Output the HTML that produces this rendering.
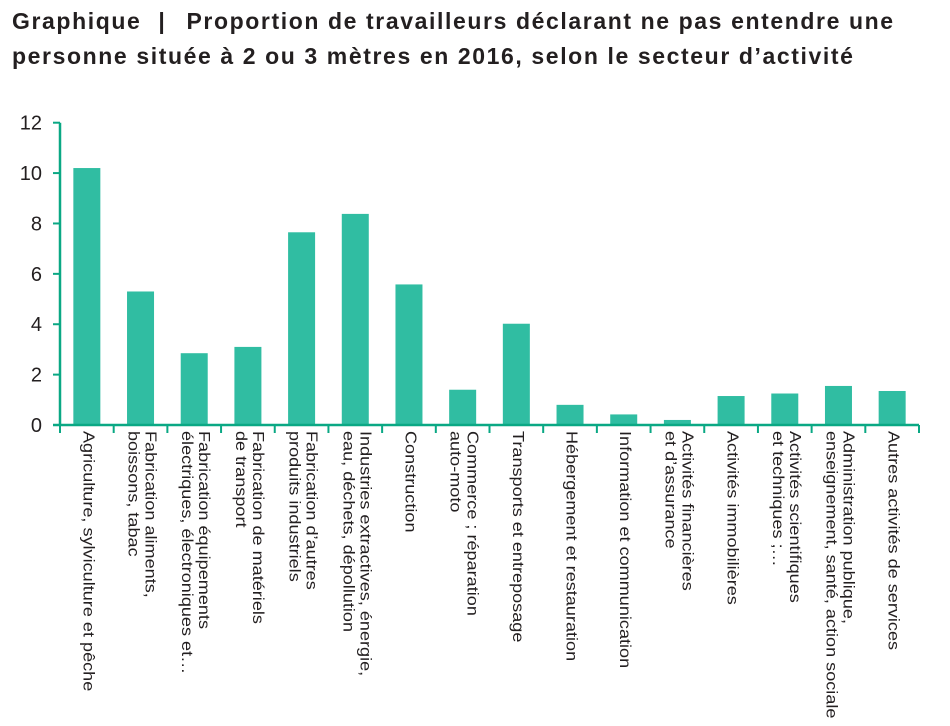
<!DOCTYPE html>
<html><head><meta charset="utf-8"><style>
body{margin:0;width:950px;height:726px;background:#fff;font-family:"Liberation Sans",sans-serif;color:#231f20;position:relative;overflow:hidden}
#title{position:absolute;left:12px;top:4px;font-weight:bold;font-size:23px;line-height:35px;letter-spacing:1.6px;white-space:nowrap}
.sep{display:inline-block;margin:0 20px 0 17px}
.lbl{position:absolute;top:431px;writing-mode:vertical-rl;font-size:16px;line-height:17px;white-space:nowrap;transform:translateX(-50%) scaleY(1.13);transform-origin:50% 0}
svg{position:absolute;left:0;top:0}
</style></head><body>
<div id="title">Graphique<span class="sep">|</span>Proportion de travailleurs déclarant ne pas entendre une<br>personne située à 2 ou 3 mètres en 2016, selon le secteur d’activité</div>
<svg id="chart" width="950" height="726"></svg>
<div id="labels"></div>
<script>
const categories=["Agriculture, sylviculture et pêche","Fabrication aliments,|boissons, tabac","Fabrication équipements|électriques, électroniques et…","Fabrication de matériels|de transport","Fabrication d’autres|produits industriels","Industries extractives, énergie,|eau, déchets, dépollution","Construction","Commerce ; réparation|auto-moto","Transports et entreposage","Hébergement et restauration","Information et communication","Activités financières|et d’assurance","Activités immobilières","Activités scientifiques|et techniques ;…","Administration publique,|enseignement, santé, action sociale","Autres activités de services"];
const values=[10.2,5.3,2.85,3.1,7.65,8.38,5.58,1.4,4.02,0.8,0.42,0.2,1.15,1.25,1.55,1.35];
const yTicks=[0,2,4,6,8,10,12];
const x0=60,x1=919,y0=425,yTop=122.7,yMax=12;
const band=(x1-x0)/categories.length;
const y=v=>y0-(y0-yTop)*v/yMax;
const xc=i=>x0+band*(i+0.5);
const svg=document.getElementById('chart');
const NS='http://www.w3.org/2000/svg';
function mk(t,a){const e=document.createElementNS(NS,t);for(const k in a)e.setAttribute(k,a[k]);svg.appendChild(e);return e;}
values.forEach((v,i)=>{
 const r=mk('rect',{x:xc(i)-13.5,y:y(v),width:27,height:y0-y(v),fill:'#30bda2'});
 
 
});
const ya=mk('line',{x1:x0,y1:yTop,x2:x0,y2:y0,stroke:'#0aa884','stroke-width':2.5});


yTicks.forEach(t=>{
 mk('line',{x1:x0-7,y1:y(t),x2:x0,y2:y(t),stroke:'#0aa884','stroke-width':2});
 const tx=mk('text',{x:42,y:y(t)+7,'text-anchor':'end','font-size':20,fill:'#231f20','font-family':'Liberation Sans, sans-serif'});
 tx.textContent=t;
 
 
});
const xa=mk('line',{x1:x0-7,y1:y0,x2:x1,y2:y0,stroke:'#0aa884','stroke-width':2.5});


for(let i=0;i<=categories.length;i++){
 const xx=x0+band*i;
 mk('line',{x1:xx,y1:y0,x2:xx,y2:y0+8,stroke:'#0aa884','stroke-width':2});
}
const lc=document.getElementById('labels');
categories.forEach((c,i)=>{
 const d=document.createElement('div');
 d.className='lbl';
 d.style.left=(xc(i)+1)+'px';
 d.innerHTML=c.split('|').join('<br>');
 
 
 lc.appendChild(d);
});
</script>
</body></html>
